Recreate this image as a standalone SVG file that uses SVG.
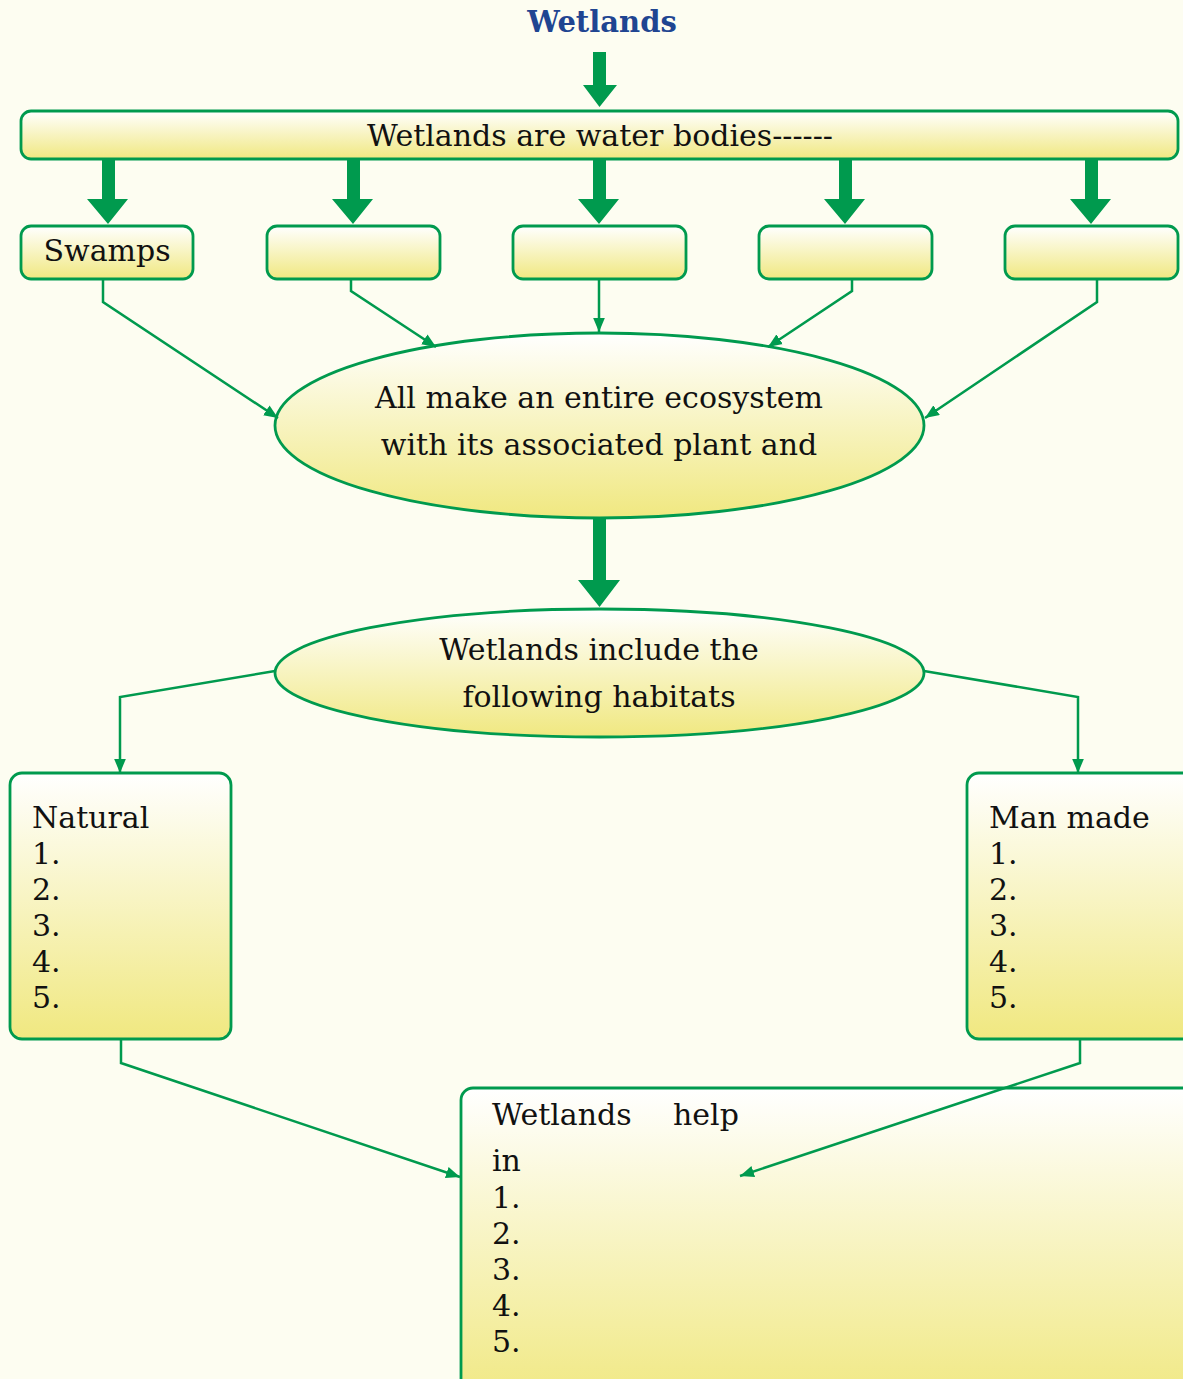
<svg xmlns="http://www.w3.org/2000/svg" width="1183" height="1379" viewBox="0 0 1183 1379">
<style>
.box{stroke:#009A4E;stroke-width:2.8;fill:url(#g)}
.t{font-family:"DejaVu Serif","Liberation Serif",serif;font-size:30px;fill:#111}
.c{text-anchor:middle}
.ln{stroke:#009A4E;stroke-width:2.5;fill:none;marker-end:url(#ah)}
.big{fill:#009A4E}
</style>
<defs>
<linearGradient id="g" x1="0" y1="0" x2="0" y2="1">
<stop offset="0" stop-color="#FFFFFF"/>
<stop offset="1" stop-color="#F0E880"/>
</linearGradient>
<marker id="ah" viewBox="0 0 12 10" refX="12" refY="5" markerWidth="14" markerHeight="12" markerUnits="userSpaceOnUse" orient="auto">
<path d="M0,0 L12,5 L0,10 Z" fill="#009A4E"/>
</marker>
</defs>
<rect width="1183" height="1379" fill="#FDFDF1"/>
<text x="602" y="32" text-anchor="middle" style="font-family:'DejaVu Serif','Liberation Serif',serif;font-size:29px;font-weight:bold;fill:#1F4591">Wetlands</text>

<g id="n-bar">
<rect class="box" x="21" y="111" width="1157" height="48" rx="10"/>
<text class="t c" x="600" y="146">Wetlands are water bodies------</text>
</g>
<g id="n-swamps">
<rect class="box" x="21" y="226" width="172" height="53" rx="10"/>
<text class="t c" x="107" y="261">Swamps</text>
</g>
<g id="n-b2"><rect class="box" x="267" y="226" width="173" height="53" rx="10"/></g>
<g id="n-b3"><rect class="box" x="513" y="226" width="173" height="53" rx="10"/></g>
<g id="n-b4"><rect class="box" x="759" y="226" width="173" height="53" rx="10"/></g>
<g id="n-b5"><rect class="box" x="1005" y="226" width="173" height="53" rx="10"/></g>

<g id="n-eco">
<ellipse class="box" cx="599.5" cy="425.5" rx="324.5" ry="92.5"/>
<text class="t c" x="599" y="408">All make an entire ecosystem</text>
<text class="t c" x="599" y="455">with its associated plant and</text>
</g>
<g id="n-habitats">
<ellipse class="box" cx="599.5" cy="673" rx="324.5" ry="64"/>
<text class="t c" x="599" y="660">Wetlands include the</text>
<text class="t c" x="599" y="707">following habitats</text>
</g>

<g id="n-natural">
<rect class="box" x="10" y="773" width="221" height="266" rx="12"/>
<text class="t" x="32" y="828">Natural</text>
<text class="t" x="32" y="864">1.</text>
<text class="t" x="32" y="900">2.</text>
<text class="t" x="32" y="936">3.</text>
<text class="t" x="32" y="972">4.</text>
<text class="t" x="32" y="1008">5.</text>
</g>
<g id="n-manmade">
<rect class="box" x="967" y="773" width="230" height="266" rx="12"/>
<text class="t" x="989" y="828">Man made</text>
<text class="t" x="989" y="864">1.</text>
<text class="t" x="989" y="900">2.</text>
<text class="t" x="989" y="936">3.</text>
<text class="t" x="989" y="972">4.</text>
<text class="t" x="989" y="1008">5.</text>
</g>
<g id="n-help">
<rect class="box" x="461" y="1088" width="740" height="320" rx="12"/>
<text class="t" x="492" y="1125" xml:space="preserve">Wetlands   <tspan x="673">help</tspan></text>
<text class="t" x="492" y="1171">in</text>
<text class="t" x="492" y="1208">1.</text>
<text class="t" x="492" y="1244">2.</text>
<text class="t" x="492" y="1280">3.</text>
<text class="t" x="492" y="1316">4.</text>
<text class="t" x="492" y="1352">5.</text>
</g>

<g id="connectors">
<polygon class="big" points="593,52 606,52 606,85 617,85 599.5,107 583,85 593,85"/>
<polygon class="big" points="102,160 115,160 115,199 128,199 108,224 87,199 102,199"/>
<polygon class="big" points="347,160 360,160 360,199 373,199 353,224 332,199 347,199"/>
<polygon class="big" points="593,160 606,160 606,199 619,199 599,224 578,199 593,199"/>
<polygon class="big" points="839,160 852,160 852,199 865,199 845,224 824,199 839,199"/>
<polygon class="big" points="1085,160 1098,160 1098,199 1111,199 1091,224 1070,199 1085,199"/>
<polygon class="big" points="593,519 606,519 606,580 620,580 599.5,607 578,580 593,580"/>
<polyline class="ln" points="103,280 103,302 278,418"/>
<polyline class="ln" points="351,280 351,291 436,347"/>
<polyline class="ln" points="599,280 599,332"/>
<polyline class="ln" points="852,280 852,291 768,347"/>
<polyline class="ln" points="1097,280 1097,302 925,418"/>
<polyline class="ln" points="275,671 120,697 120,773"/>
<polyline class="ln" points="924,671 1078,697 1078,773"/>
<polyline class="ln" points="121,1040 121,1063 460,1177"/>
<polyline class="ln" points="1080,1040 1080,1063 740,1176"/>
</g>
</svg>
